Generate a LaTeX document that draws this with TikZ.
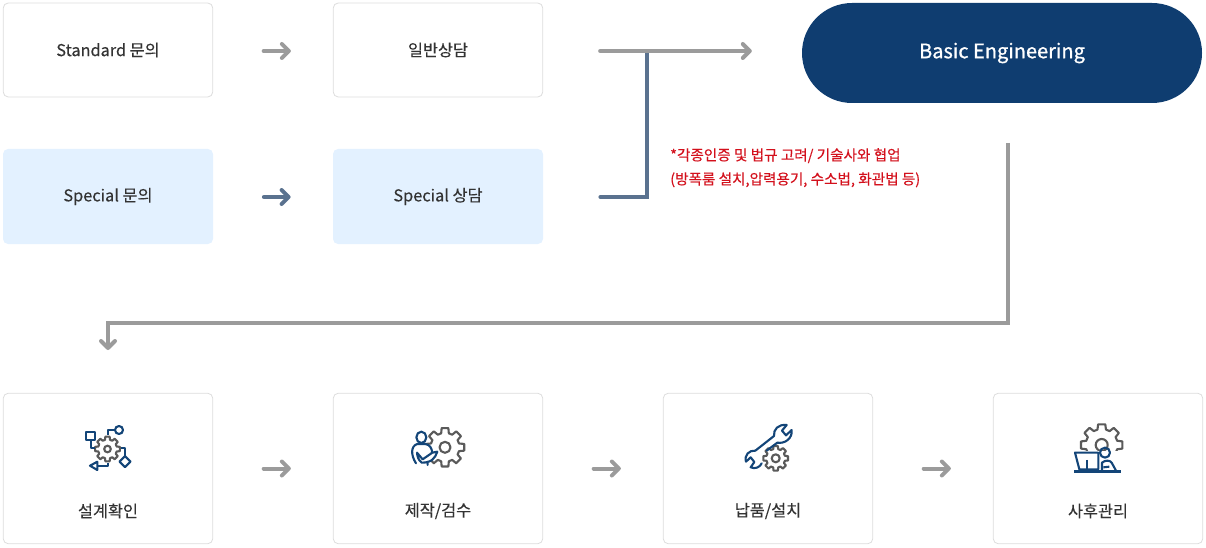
\documentclass[tikz,border=0pt]{standalone}
\usepackage{fontspec}
\setmainfont{Noto Sans CJK KR}
\usetikzlibrary{arrows.meta}
\definecolor{gline}{HTML}{9B9B9B}
\definecolor{bline}{HTML}{5A728F}
\definecolor{navy}{HTML}{0F3D70}
\definecolor{pale}{HTML}{E3F1FF}
\definecolor{bord}{HTML}{DDDDDD}
\definecolor{txt}{HTML}{333333}
\definecolor{redt}{HTML}{D3101C}
\definecolor{gearc}{HTML}{5A5A5A}
\definecolor{iconb}{HTML}{134578}
\newfontfamily\medf[FakeBold=0.25]{Noto Sans CJK KR}
\newfontfamily\boldf[FakeBold=0.9]{Noto Sans CJK KR}
\newcommand{\dn}[1]{\raisebox{-1pt}{#1}}
\tikzset{
 x=1pt,y=-1pt,
 card/.style={rectangle,rounded corners=5pt,draw=bord,line width=.8pt,fill=white,minimum width=209.5pt,text=txt,font=\medf\fontsize{16.3}{18}\selectfont,inner sep=0pt},
 shortcard/.style={card,minimum height=94pt},
 tallcard/.style={card,minimum height=150.5pt},
 palecard/.style={card,draw=none,fill=pale,minimum width=210pt,minimum height=95pt},
 pill/.style={rectangle,rounded corners=50pt,fill=navy,text=white,minimum width=400pt,minimum height=100pt,font=\boldf\fontsize{20}{24}\selectfont,inner sep=0pt},
 lab/.style={text=txt,font=\medf\fontsize{16.3}{18}\selectfont,inner sep=0pt},
 note/.style={text=redt,font=\medf\fontsize{14.6}{24}\selectfont,align=left,inner sep=0pt,anchor=north west},
 conn/.style={line width=4pt,line cap=round,color=gline},
 head/.style={-{Straight Barb[length=7pt,width=14pt,line width=4pt,round]}},
 step arrow/.style={conn,head,shorten <=50.5pt,shorten >=42pt},
 iconb/.style={draw=iconb,line width=2.1pt,line join=round,line cap=butt},
 iconw/.style={iconb,fill=white},
 gearl/.style={draw=gearc,line width=2.1pt,line join=round,fill=white},
}
% \gearshape{cx}{cy}{outer}{inner}{hole}{teeth}
\newcommand{\gearshape}[6]{%
 \pgfmathsetmacro{\st}{360/#6}%
 \draw[gearl] ({#1+#3*cos(-.22*\st)},{#2+#3*sin(-.22*\st)})
  \foreach \k in {1,...,#6}{
   -- ({#1+#3*cos((\k-1)*\st+.22*\st)},{#2+#3*sin((\k-1)*\st+.22*\st)})
   -- ({#1+#4*cos((\k-1)*\st+.34*\st)},{#2+#4*sin((\k-1)*\st+.34*\st)})
   -- ({#1+#4*cos((\k-1)*\st+.66*\st)},{#2+#4*sin((\k-1)*\st+.66*\st)})
   -- ({#1+#3*cos((\k-1)*\st+.78*\st)},{#2+#3*sin((\k-1)*\st+.78*\st)})
  } -- cycle;
 \draw[gearl] (#1,#2) circle[radius=#5];%
}
\begin{document}
\begin{tikzpicture}
\useasboundingbox (0,0) rectangle (1206,548);
% upper boxes
\node[shortcard] (std) at (108,50) {\dn{Standard 문의}};
\node[shortcard] (gen) at (438,50) {\dn{일반상담}};
\node[palecard] (spc) at (108,196.5) {\dn{Special 문의}};
\node[palecard] (spg) at (438,196.5) {\dn{Special 상담}};
\node[pill] (be) at (1002,53) {Basic Engineering};
\node[note] (nt) at (670,148) {*각종인증 및 법규 고려/ 기술사와 협업\\(방폭룸 설치,압력용기, 수소법, 화관법 등)};
% lower boxes
\node[tallcard] (c1) at (108,468.5) {};
\node[tallcard] (c2) at (438,468.5) {};
\node[tallcard] (c3) at (768,468.5) {};
\node[tallcard] (c4) at (1098,468.5) {};
\node[lab] (l1) at (108,511) {설계확인};
\node[lab] (l2) at (438,511) {제작/검수};
\node[lab] (l3) at (768,511) {납품/설치};
\node[lab] (l4) at (1098,511) {사후관리};
% coordinates for connector bends
\coordinate (jn) at (647,51);
\coordinate (bs) at (1008,143);
\coordinate (bd) at (1008,323);
\coordinate (bl) at (108,323);
\coordinate (be1) at (108,350);
% connectors
\draw[step arrow] (std.east |- 0,51) -- (gen.west |- 0,51);
\draw[step arrow,color=bline] (spc.east |- 0,197) -- (spg.west |- 0,197);
\draw[line width=4pt,color=bline,line join=miter] ([xshift=57pt]spg.east |- 0,197) -- (647,197) -- (jn);
\draw[conn,color=bline,line cap=round] ([xshift=57pt]spg.east |- 0,197) -- +(5,0);
\draw[conn,head,shorten <=57pt,shorten >=50pt] (gen.east |- 0,51) -- (be.west |- 0,51);
\draw[conn,line cap=butt,head,line join=miter] (bs) -- (bd) -- (bl) -- (be1);
\draw[step arrow] (c1.east) -- (c2.west);
\draw[step arrow] (c2.east) -- (c3.west);
\draw[step arrow] (c3.east) -- (c4.west);
% icon 1
\gearshape{107.5}{449}{12.5}{9.5}{3.3}{8}
\draw[iconb] (86.3,431.7) rectangle (95,440);
\draw[iconb] (90.7,440) -- (90.7,448.3) -- (95,448.3);
\draw[iconb] (119,430) circle[radius=4];
\draw[iconb] (115,430) -- (108.3,430) -- (108.3,435);
\draw[iconb] (125,456) -- (130.5,461.7) -- (125,467.2) -- (119.5,461.7) -- cycle;
\draw[iconb] (120.5,448.3) -- (125,448.3) -- (125,456);
\draw[iconb] (90,465.7) -- (97.3,461.7) -- (97.3,470) -- cycle;
\draw[iconb] (97.3,465.7) -- (107.7,465.7) -- (107.7,462.7);
% icon 2
\gearshape{445}{447.3}{19.5}{14.5}{5.5}{8}
\begin{scope}[shift={(380,410)},x=.3333pt,y=-.3333pt]
\draw[iconw] (124,82) ellipse[x radius=15,y radius=17];
\draw[iconw,line cap=round] (108,160) .. controls (92,135) and (92,108) .. (112,102)
  -- (136,102) .. controls (150,104) and (155,115) .. (157,128)
  -- (172,125) .. controls (165,145) and (155,158) .. (125,158)
  .. controls (115,150) and (112,140) .. (111,128)
  (111,128) -- (128,148) -- (157,128) (143,165) -- (143,155);
\end{scope}
% icon 3
\gearshape{775.7}{458.3}{12.5}{9.5}{4}{8}
\begin{scope}[shift={(710,410)},x=.3333pt,y=-.3333pt]
\draw[iconb,line cap=round] (192,78) .. controls (190,58) and (205,42) .. (230,45)
  -- (216,62) -- (228,76) -- (245,60) .. controls (248,85) and (225,102) .. (202,98);
\draw[iconb,line cap=round] (192,78) -- (136,122) .. controls (118,120) and (102,135) .. (108,155)
  -- (122,142) -- (133,156) -- (122,172) .. controls (135,178) and (150,172) .. (155,160);
\draw[iconb,line cap=round] (202,98) -- (170,122);
\end{scope}
% icon 4
\gearshape{1101.7}{445}{21}{16}{6}{8}
\begin{scope}[shift={(1040,410)},x=.3333pt,y=-.3333pt]
\fill[white] (100,122) rectangle (240,192);
\draw[iconb,draw=iconb] (195,128) circle[radius=15];
\draw[iconw] (105,128) -- (175,128) -- (175,178) -- (118,178) -- cycle;
\draw[iconb] (140,150) -- (140,185);
\draw[iconb,line cap=round] (186,182) -- (186,158) .. controls (195,150) and (210,150) .. (215,158) -- (228,182);
\draw[iconb] (190,172) -- (208,170);
\draw[iconb,line width=2.4pt] (102,185) -- (242,185);
\end{scope}
\end{tikzpicture}
\end{document}
